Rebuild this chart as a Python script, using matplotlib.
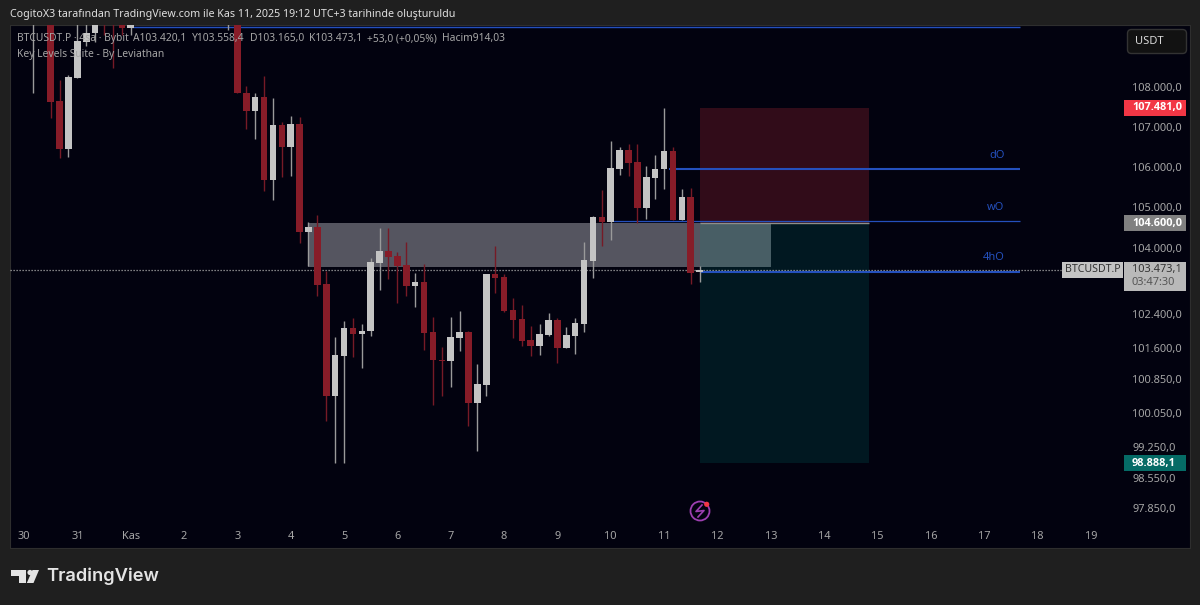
import matplotlib
matplotlib.use('Agg')
import matplotlib.pyplot as plt
from matplotlib.patches import Rectangle, Circle, Polygon, FancyBboxPatch

# 4h mumlar (gorunmeyenler grafigin ustunde kaliyor)
bars = [1, 3, 4, 5, 6, 7, 8, 9, 10, 11, 12, 23, 24, 25, 26, 27, 28, 29, 30, 31, 32, 33, 34, 35, 36, 37, 38, 39,
        40, 41, 42, 43, 44, 45, 46, 47, 48, 49, 50, 51, 52, 53, 54, 55, 56, 57, 58, 59, 60, 61, 62, 63, 64, 65,
        66, 67, 68, 69, 70, 71, 72, 73, 74, 75, 76]
opens = [110100, 110300, 107646, 106442, 108228, 109145, 109376, 110300, 110200, 110100, 109504, 110100, 110400,
         107848, 107394, 107747, 105671, 107043, 106492, 107068, 104391, 104513, 103126, 100454, 101400, 102068,
         101924, 101996, 103635, 103927, 103805, 103587, 103078, 103175, 101972, 101305, 101281, 101829, 101972,
         100290, 100713, 103368, 103295, 102500, 102284, 101781, 101638, 101900, 102260, 101590, 101876, 102164,
         103684, 104759, 104636, 105944, 106417, 106118, 104979, 105720, 105944, 106392, 104685, 105251, 103420]
highs = [110500, 110400, 108177, 108304, 110000, 110000, 110200, 110400, 110300, 110300, 110200, 110600, 110600,
         108025, 107848, 108278, 107722, 107118, 107268, 107243, 104636, 104808, 103441, 101852, 102236, 102308,
         102164, 103757, 104489, 104489, 103903, 104146, 103392, 103611, 102332, 101614, 102332, 102476, 101996,
         101210, 103368, 104049, 103368, 102788, 102620, 102116, 102164, 102428, 102308, 102092, 102308, 104146,
         104783, 105424, 106642, 106492, 106567, 106567, 106019, 106292, 107469, 106492, 105449, 105473, 103558]
lows = [107850, 107218, 106218, 106243, 108228, 109043, 109145, 109324, 108482, 109324, 109324, 109453, 107848,
        106942, 106692, 105399, 105177, 105745, 105770, 104122, 103562, 102836, 99868, 98889, 98889, 101376,
        101115, 101876, 102981, 103247, 102668, 102836, 102572, 101543, 100242, 100454, 100666, 101519, 99751,
        99167, 100454, 102909, 102452, 101829, 101638, 101400, 101424, 101876, 101234, 101590, 101448, 101972,
        103271, 104049, 104195, 105795, 105770, 104611, 104710, 105202, 105449, 104685, 104685, 103126, 103165]
closes = [110400, 107620, 106442, 108253, 109170, 109376, 110000, 110000, 109900, 109504, 110100, 110500, 107848,
          107394, 107747, 105671, 107043, 106492, 107068, 104391, 104513, 103102, 100454, 101424, 102068, 101924,
          101996, 103659, 103927, 103781, 103562, 103078, 103175, 101948, 101305, 101270, 101852, 101972, 100290,
          100737, 103368, 103271, 102476, 102260, 101757, 101638, 101924, 102260, 101590, 101900, 102188, 103708,
          104759, 104636, 105969, 106417, 106093, 104979, 105745, 105944, 106392, 104685, 105251, 103392, 103473]

price_ticks = [108000, 107000, 106000, 105000, 104000, 102400, 101600, 100850, 100050, 99250, 98550, 97850]
price_labels = ['108.000,0', '107.000,0', '106.000,0', '105.000,0', '104.000,0', '102.400,0',
                '101.600,0', '100.850,0', '100.050,0', '99.250,0', '98.550,0', '97.850,0']
day_labels = ['30', '31', 'Kas', '2', '3', '4', '5', '6', '7', '8', '9', '10', '11', '12', '13', '14', '15',
              '16', '17', '18', '19']

last_price = 103473.1
entry = 104600
stop = 107481
target = 98888.1
zone_low, zone_high = 103545, 104610
level_names = ['', 'dO', 'wO', '4hO']
level_prices = [109530, 105944, 104653, 103420]
level_starts = [12, 72.6, 66.2, 76]

BG = '#1f1f1f'
PANE = '#02020f'
RED = '#871c28'
WHITE = '#c4c4c4'
BLUE = '#2450bd'
TXT = '#a6a6a6'
plt.rcParams['font.family'] = ['Noto Sans', 'DejaVu Sans']

fig = plt.figure(figsize=(12, 6.05), dpi=100, facecolor=BG)
ax = fig.add_axes([10 / 1200, 1 - 548 / 605, 1180 / 1200, 523 / 605], facecolor=PANE)
ax.set_yscale('log')
ax.set_xlim(-1.575, 131.16)
ax.set_ylim(96938, 109581)
for s in ax.spines.values():
    s.set_color('#2e2e2e')
    s.set_linewidth(0.8)

# bolge ve pozisyon
ax.add_patch(Rectangle((32, zone_low), 52, zone_high - zone_low, fc='#555560', ec='none', zorder=1))
ax.add_patch(Rectangle((76, entry), 19, stop - entry, fc=(242 / 255, 54 / 255, 69 / 255, 0.2), ec='none', zorder=2))
ax.add_patch(Rectangle((76, target), 19, entry - target, fc=(0, 150 / 255, 136 / 255, 0.15), ec='none', zorder=2))
ax.hlines(entry, 76, 95, color='#8f8f8a', lw=1, zorder=2.5)

# seviye cizgileri
ax.hlines(last_price, -1.575, 116.6, color='#a8a8a8', lw=0.9, ls=(0, (1, 1.4)), zorder=3)
for name, lev, st, w in zip(level_names, level_prices, level_starts, [1, 1.5, 0.9, 1.5]):
    ax.hlines(lev, st, 112, color=BLUE, lw=w, zorder=3)
    if name:
        ax.annotate(name, (110.3, lev), xytext=(0, 10), textcoords='offset points', ha='right', va='center',
                    color=BLUE, fontsize=8)

# mumlar
for i, o, h, l, c in zip(bars, opens, highs, lows, closes):
    col = WHITE if c >= o else RED
    wick = '#9a9a9a' if c >= o else '#761a26'
    ax.vlines(i, l, h, color=wick, lw=1.0, zorder=4)
    ax.bar(i, abs(c - o), bottom=min(o, c), width=0.74, color=col, linewidth=0, zorder=5)

ax.yaxis.tick_right()
ax.set_yticks(price_ticks, price_labels)
ax.minorticks_off()
ax.set_xticks(range(0, 6 * len(day_labels), 6), day_labels)
ax.tick_params(axis='y', length=0, pad=-41.5, labelcolor=TXT, labelsize=7.9)
ax.tick_params(axis='x', length=0, pad=-12, labelcolor=TXT, labelsize=7.9)
for t in ax.get_yticklabels():
    t.set_ha('left')
for t, name in zip(ax.get_xticklabels(), day_labels):
    if name == 'Kas':
        t.set_fontweight('bold')

# piksel koordinatli ust katman
ov = fig.add_axes([0, 0, 1, 1], facecolor='none')
ov.set_xlim(0, 1200)
ov.set_ylim(605, 0)
ov.axis('off')

ov.text(10, 14, 'CogitoX3 tarafından TradingView.com ile Kas 11, 2025 19:12 UTC+3 tarihinde oluşturuldu',
        color='#e0e0e0', fontsize=7.7, va='center')
ov.text(17, 39, 'BTCUSDT.P · 4sa · Bybit', color=TXT, fontsize=7.4, va='center')
ov.text(133, 39, 'A103.420,1', color=TXT, fontsize=7.4, va='center')
ov.text(192, 39, 'Y103.558,4', color=TXT, fontsize=7.4, va='center')
ov.text(250, 39, 'D103.165,0', color=TXT, fontsize=7.4, va='center')
ov.text(309, 39, 'K103.473,1', color=TXT, fontsize=7.4, va='center')
ov.text(367, 39, '+53,0 (+0,05%)', color=TXT, fontsize=7.4, va='center')
ov.text(442, 39, 'Hacim914,03', color=TXT, fontsize=7.4, va='center')
ov.text(17, 55, 'Key Levels Suite - By Leviathan', color=TXT, fontsize=7.4, va='center')


def price_y(p):
    return 605 - ax.transData.transform((0, p))[1]


def tag(price, label, fc, tc='white'):
    y = price_y(price)
    ov.add_patch(Rectangle((1124, y - 8), 62, 16, fc=fc, ec='none'))
    ov.text(1132, y, label, color=tc, fontsize=7.9, fontweight='bold', family='Open Sans', va='center')


tag(stop, '107.481,0', '#f23645')
tag(entry, '104.600,0', '#808080')
tag(target, '98.888,1', '#056b66')

y0 = price_y(last_price)
ov.add_patch(Rectangle((1124, y0 - 8), 62, 29, fc='#b9b9b9', ec='none'))
ov.add_patch(Rectangle((1062, y0 - 8), 61, 16, fc='#c4c4c4', ec='none'))
ov.text(1065, y0, 'BTCUSDT.P', color='#333333', fontsize=7.6, va='center')
ov.text(1132, y0, '103.473,1', color='#333333', fontsize=7.9, va='center')
ov.text(1132, y0 + 13, '03:47:30', color='#555555', fontsize=7.9, va='center')

ov.add_patch(FancyBboxPatch((1129, 31), 56, 21, boxstyle='round,pad=1.5,rounding_size=4', fc='#121212', ec='#333333', lw=1))
ov.text(1135, 41.5, 'USDT', color='#d8d8d8', fontsize=8, va='center')

# simsek ikonu
ov.add_patch(Circle((700, 511), 9.5, fc='none', ec='#9c3fb0', lw=1.3))
ov.plot([702, 696, 704, 698], [505, 511.5, 510.5, 517], color='#9c3fb0', lw=1.2)
ov.add_patch(Circle((706.7, 504.3), 2.6, fc='#f23645', ec='none'))

# TradingView logosu
LOGO = '#e4e4e4'
ov.add_patch(Polygon([(11, 570), (26, 570), (26, 583), (19, 583), (19, 575.5), (11, 575.5)], fc=LOGO, ec='none'))
ov.add_patch(Circle((30, 572.5), 2.6, fc=LOGO, ec='none'))
ov.add_patch(Polygon([(32.5, 570), (39, 570), (33.5, 583), (26.8, 583)], fc=LOGO, ec='none'))
ov.text(46, 576.5, 'TradingView', color=LOGO, fontsize=13.2, fontweight='semibold', family='Inter', va='center')

fig.savefig('out.png', dpi=100, facecolor=BG)
